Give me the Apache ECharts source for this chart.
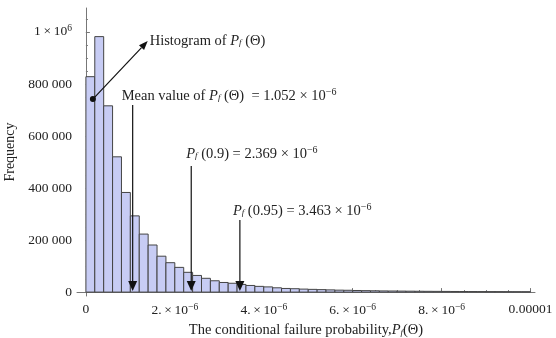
<!DOCTYPE html>
<html>
<head>
<meta charset="utf-8">
<script src="https://cdn.jsdelivr.net/npm/echarts@6/dist/echarts.min.js"></script>
<style>
html,body{margin:0;padding:0;background:#fff;}
#chart{width:556px;height:338px;}
</style>
</head>
<body>
<div id="chart"></div>
<script>
// ---- data ----
var binWidth = 0.2e-6;
var counts = [828000, 982000, 716000, 520000, 383000, 293000, 223000, 181000, 138000, 113000,
  95000, 76000, 64000, 53000, 43500, 37000, 34000, 29500, 25500, 22000,
  20000, 16500, 14000, 13000, 11500, 10500, 9500, 8500, 7500, 7000,
  6200, 5600, 5000, 4500, 4200, 3800, 3500, 3200, 3000, 2800,
  2600, 2400, 2200, 2000, 1900, 1800, 1700, 1600, 1500, 1400];
var xTicks = [0, 2e-6, 4e-6, 6e-6, 8e-6, 1e-5];
var yTicks = [0, 200000, 400000, 600000, 800000, 1000000];
var xMinorTicks = [0,0.5e-6,1e-6,1.5e-6,2e-6,2.5e-6,3e-6,3.5e-6,4e-6,4.5e-6,5e-6,5.5e-6,6e-6,6.5e-6,7e-6,7.5e-6,8e-6,8.5e-6,9e-6,9.5e-6,1e-5];
var yMinorTicks = [0,50000,100000,150000,200000,250000,300000,350000,400000,450000,500000,550000,600000,650000,700000,750000,800000,850000,900000,950000,1000000,1050000];
var markerX = [1.052e-6, 2.369e-6, 3.463e-6];
var markerTop = [719000, 485000, 277000];
var markerText = [
  'Mean value of {i|P}{sub|f} (Θ)  = 1.052 × 10{sup|−6}',
  '{i|P}{sub|f} (0.9) = 2.369 × 10{sup|−6}',
  '{i|P}{sub|f} (0.95) = 3.463 × 10{sup|−6}'
];
var histArrowFrom = [0.157e-6, 742000];
var histArrowTo = [1.39e-6, 965000];
var histText = 'Histogram of {i|P}{sub|f} (Θ)';

// ---- styles ----
var FONT = '"Liberation Serif", "DejaVu Serif", serif';
var FS = 14.5;
var richStyles = {
  i: {fontStyle: 'italic', fontFamily: FONT, fontSize: FS, color: '#222'},
  sub: {fontStyle: 'italic', fontFamily: FONT, fontSize: 9, color: '#222', padding: [4, 0, 0, 0]},
  sup: {fontFamily: FONT, fontSize: 10, color: '#222', padding: [0, 0, 8, 0]}
};
var labelOffsets = [[-11, -9], [-5, -12], [-7, -9]];

var barData = counts.map(function (c, i) { return [i * binWidth, (i + 1) * binWidth, c]; });
var markerData = markerX.map(function (x, i) { return [x, markerTop[i], i]; });

function fmtX(v) {
  var k = Math.round(v * 1e6);
  if (k === 0) return '0';
  if (k === 10) return '0.00001';
  return k + '.\u2009×\u200910{sup|−6}';
}
function fmtY(v) {
  if (v === 1000000) return '1\u2009×\u200910{sup|6}';
  if (v === 0) return '0';
  var s = String(Math.round(v));
  return s.slice(0, s.length - 3) + ' ' + s.slice(s.length - 3);
}

var chart = echarts.init(document.getElementById('chart'));
var axisColor = '#777';
var option = {
  animation: false,
  grid: {left: 77, right: 21, top: 8, bottom: 42, containLabel: false, outerBoundsMode: 'none'},
  xAxis: [{
    type: 'value', min: -0.2e-6, max: 10.1e-6,
    axisLine: {show: true, lineStyle: {color: axisColor, width: 1}},
    axisTick: {show: true, inside: true, length: 4, customValues: xTicks, lineStyle: {color: axisColor}},
    axisLabel: {customValues: xTicks, formatter: fmtX, fontFamily: FONT, fontSize: 13.5, color: '#222', margin: 6,
      rich: {sup: {fontFamily: FONT, fontSize: 9.5, color: '#222', padding: [0, 0, 7, 0]}}},
    splitLine: {show: false},
    name: 'The conditional failure probability,{i|P}{sub|f}(Θ)',
    nameLocation: 'middle', nameGap: 27,
    nameTextStyle: {fontFamily: FONT, fontSize: FS, color: '#222', rich: richStyles}
  }, {
    type: 'value', min: -0.2e-6, max: 10.1e-6, position: 'bottom',
    axisLine: {show: false},
    axisTick: {show: true, inside: true, length: 2, customValues: xMinorTicks, lineStyle: {color: axisColor}},
    axisLabel: {show: false}, splitLine: {show: false}
  }],
  yAxis: [{
    type: 'value', min: -15000, max: 1092000,
    axisLine: {show: true, lineStyle: {color: axisColor, width: 1}},
    axisTick: {show: true, inside: true, length: 4, customValues: yTicks, lineStyle: {color: axisColor}},
    axisLabel: {customValues: yTicks, formatter: fmtY, fontFamily: FONT, fontSize: 13.5, color: '#222', margin: 5,
      rich: {sup: {fontFamily: FONT, fontSize: 9.5, color: '#222', padding: [0, 0, 7, 0]}}},
    splitLine: {show: false},
    name: 'Frequency', nameLocation: 'middle', nameGap: 52,
    nameTextStyle: {fontFamily: FONT, fontSize: 14, color: '#222'}
  }, {
    type: 'value', min: -15000, max: 1092000, position: 'left',
    axisLine: {show: false},
    axisTick: {show: true, inside: true, length: 2, customValues: yMinorTicks, lineStyle: {color: axisColor}},
    axisLabel: {show: false}, splitLine: {show: false}
  }],
  series: [{
    type: 'custom',
    data: barData,
    renderItem: function (params, api) {
      var p0 = api.coord([api.value(0), api.value(2)]);
      var p1 = api.coord([api.value(1), 0]);
      return {
        type: 'rect',
        shape: {x: p0[0], y: p0[1], width: p1[0] - p0[0], height: p1[1] - p0[1]},
        style: {fill: '#c7ccf4', stroke: '#444', lineWidth: 1}
      };
    },
    z: 2
  }, {
    type: 'custom',
    data: markerData,
    renderItem: function (params, api) {
      var idx = api.value(2);
      var top = api.coord([api.value(0), api.value(1)]);
      var bot = api.coord([api.value(0), 0]);
      var off = labelOffsets[idx];
      return {
        type: 'group',
        children: [{
          type: 'line',
          shape: {x1: top[0], y1: top[1], x2: bot[0], y2: bot[1] - 6},
          style: {stroke: '#111', lineWidth: 1.2}
        }, {
          type: 'polygon',
          shape: {points: [[bot[0] - 4.5, bot[1] - 11], [bot[0] + 4.5, bot[1] - 11], [bot[0], bot[1] - 1]]},
          style: {fill: '#111'}
        }, {
          type: 'text',
          x: top[0] + off[0], y: top[1] + off[1],
          style: {text: markerText[idx], fontFamily: FONT, fontSize: FS, fill: '#222',
            verticalAlign: 'middle', align: 'left', rich: richStyles}
        }]
      };
    },
    z: 5
  }, {
    type: 'custom',
    data: [[histArrowFrom[0], histArrowFrom[1], histArrowTo[0], histArrowTo[1]]],
    renderItem: function (params, api) {
      var a = api.coord([api.value(0), api.value(1)]);
      var b = api.coord([api.value(2), api.value(3)]);
      var ang = Math.atan2(b[1] - a[1], b[0] - a[0]);
      var L = 9, W = 3.5;
      var bx = b[0] - L * Math.cos(ang), by = b[1] - L * Math.sin(ang);
      var nx = -Math.sin(ang), ny = Math.cos(ang);
      return {
        type: 'group',
        children: [{
          type: 'circle', shape: {cx: a[0], cy: a[1], r: 3}, style: {fill: '#111'}
        }, {
          type: 'line', shape: {x1: a[0], y1: a[1], x2: bx, y2: by}, style: {stroke: '#111', lineWidth: 1.2}
        }, {
          type: 'polygon',
          shape: {points: [[b[0], b[1]], [bx + nx * W, by + ny * W], [bx - nx * W, by - ny * W]]},
          style: {fill: '#111'}
        }, {
          type: 'text', x: b[0] + 2, y: b[1],
          style: {text: histText, fontFamily: FONT, fontSize: FS, fill: '#222',
            verticalAlign: 'middle', align: 'left', rich: richStyles}
        }]
      };
    },
    z: 5
  }]
};
chart.setOption(option);
</script>
</body>
</html>
